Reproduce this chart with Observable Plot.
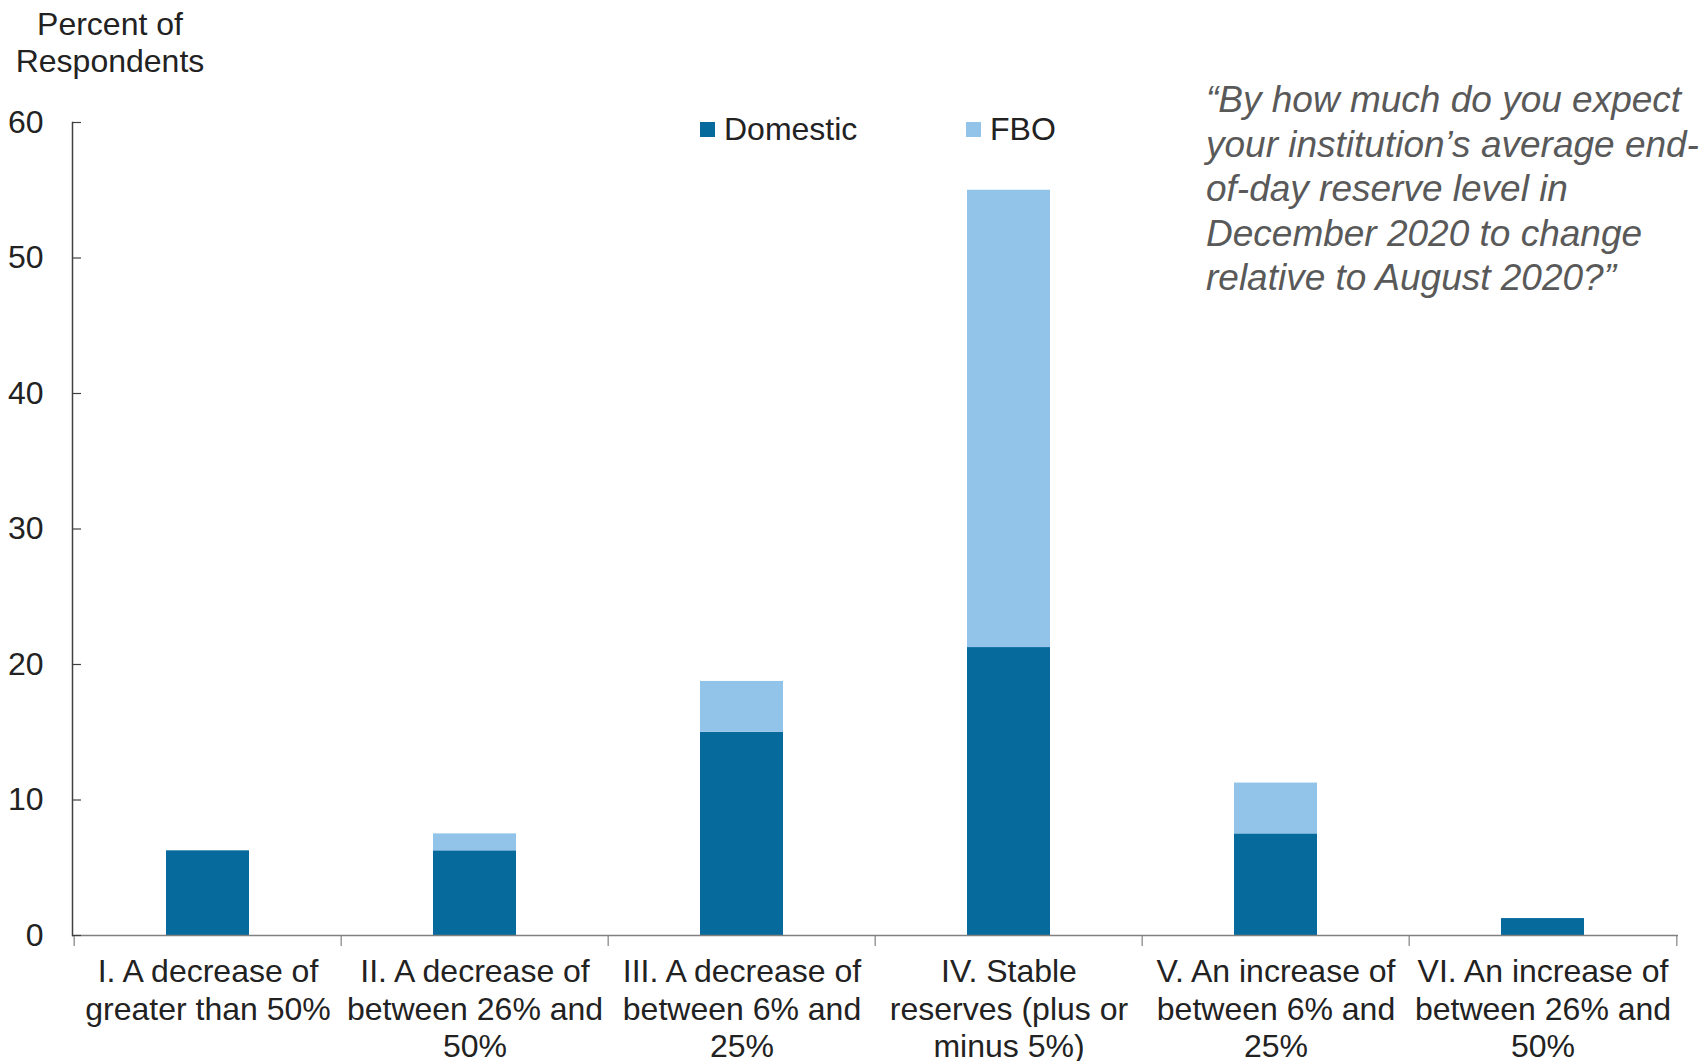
<!DOCTYPE html>
<html><head><meta charset="utf-8">
<script src="https://cdn.jsdelivr.net/npm/d3@7"></script>
<script src="https://cdn.jsdelivr.net/npm/@observablehq/plot@0.6"></script>
<style>
body{margin:0;background:#fff;font-family:"Liberation Sans",Arial,sans-serif;}
#wrap{position:relative;width:1705px;height:1061px;overflow:hidden;}
#wrap svg{position:absolute;left:0;top:0;}
.abs{position:absolute;white-space:pre;}
</style></head><body><div id="wrap"></div>
<script>
const categories = [
  "I. A decrease of\ngreater than 50%",
  "II. A decrease of\nbetween 26% and\n50%",
  "III. A decrease of\nbetween 6% and\n25%",
  "IV. Stable\nreserves (plus or\nminus 5%)",
  "V. An increase of\nbetween 6% and\n25%",
  "VI. An increase of\nbetween 26% and\n50%"
];
const domestic = [6.25, 6.25, 15, 21.25, 7.5, 1.25];
const fbo = [0, 1.25, 3.75, 33.75, 3.75, 0];
const series = ["Domestic", "FBO"];
const colors = ["#066a9c", "#92c4ea"];
const yTicks = [0, 10, 20, 30, 40, 50, 60];
const yLabel = "Percent of\nRespondents";
const note = "“By how much do you expect\nyour institution’s average end-\nof-day reserve level in\nDecember 2020 to change\nrelative to August 2020?”";

const rows = [];
categories.forEach((c, i) => {
  rows.push({cat: c, series: series[0], value: domestic[i]});
  rows.push({cat: c, series: series[1], value: fbo[i]});
});

const W = 1705, H = 1061, mL = 72, mR = 27, mT = 122, mB = 126;
const step = (W - mL - mR) / categories.length;

const chart = Plot.plot({
  width: W, height: H,
  marginLeft: mL, marginRight: mR, marginTop: mT, marginBottom: mB,
  style: {fontFamily: "'Liberation Sans', Arial, sans-serif", fontSize: "32px", color: "#222", background: "#fff"},
  x: {domain: categories, padding: 0, axis: null, label: null},
  y: {domain: [0, 60], axis: null, label: null},
  color: {domain: series, range: colors},
  marks: [
    Plot.barY(rows, {x: "cat", y: "value", fill: "series", insetLeft: 92, insetRight: 92}),
    Plot.ruleY([0], {stroke: "#808080", strokeWidth: 1.5}),
    Plot.axisX(categories, {tickSize: 11, dx: -step / 2, tickFormat: () => "", label: null, stroke: "#808080", strokeWidth: 1.2}),
    Plot.axisX([categories[categories.length - 1]], {tickSize: 11, dx: step / 2, tickFormat: () => "", label: null, stroke: "#808080", strokeWidth: 1.2}),
    Plot.axisX(categories, {tickSize: 0, tickPadding: 20, lineHeight: 1.17, fontSize: 32, fill: "#222", label: null}),
    Plot.frame({anchor: "left", stroke: "#404040", strokeWidth: 1.5}),
    Plot.axisY(yTicks, {tickSize: 9, dx: 9, tickFormat: () => "", label: null, stroke: "#404040", strokeWidth: 1.2}),
    Plot.axisY(yTicks, {tickSize: 0, tickPadding: 29, fontSize: 32, fill: "#222", label: null})
  ]
});

const wrap = document.getElementById("wrap");
wrap.appendChild(chart);

function addDiv(text, css) {
  const d = document.createElement("div");
  d.className = "abs";
  d.textContent = text;
  Object.assign(d.style, css);
  wrap.appendChild(d);
  return d;
}

addDiv(yLabel, {left: "0px", top: "6px", width: "220px", textAlign: "center", fontSize: "32px", lineHeight: "37px", color: "#222"});

const legendX = [700, 966];
series.forEach((s, i) => {
  addDiv("", {left: legendX[i] + "px", top: "122px", width: "15px", height: "15px", background: colors[i]});
  addDiv(s, {left: (legendX[i] + 24) + "px", top: "111px", fontSize: "32px", lineHeight: "37px", color: "#222"});
});

addDiv(note, {left: "1206px", top: "78px", fontSize: "37px", lineHeight: "44.6px", fontStyle: "italic", color: "#595959"});
</script>
</body></html>
